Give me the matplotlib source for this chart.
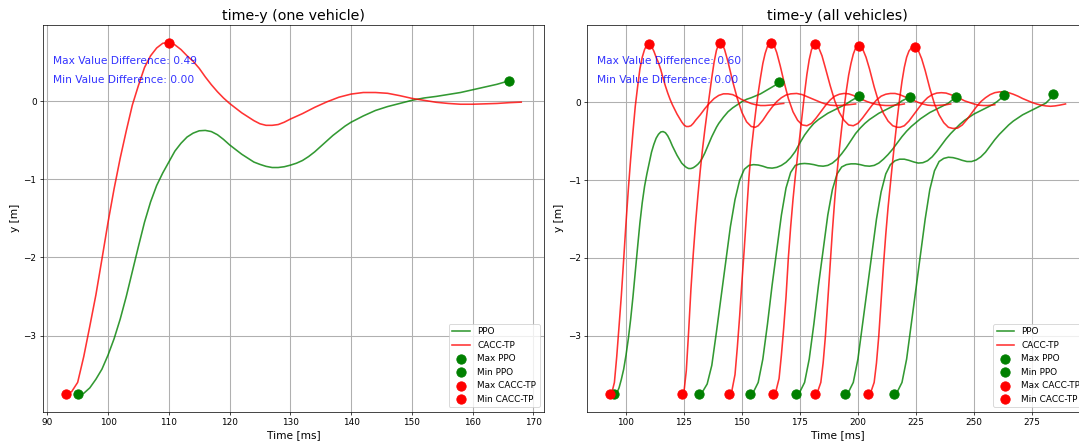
import matplotlib
matplotlib.use("Agg")
import matplotlib.pyplot as plt
from matplotlib.ticker import MultipleLocator

# vehicle 1 (also shown alone in the left panel)
ppo_t1 = [95, 96, 97, 98, 99, 100, 101, 102, 103, 104, 105, 106, 107, 108, 109, 110, 111, 112, 113, 114,
          115, 116, 117, 118, 119, 120, 121, 122, 123, 124, 125, 126, 127, 128, 129, 130, 131, 132, 133, 134,
          135, 136, 137, 138, 139, 140, 142, 144, 146, 148, 150, 152, 154, 156, 158, 160, 162, 164, 166]
ppo_y1 = [-3.75, -3.74, -3.67, -3.56, -3.43, -3.25, -3.04, -2.79, -2.5, -2.18, -1.86, -1.55, -1.29, -1.08,
          -0.92, -0.78, -0.64, -0.54, -0.46, -0.41, -0.38, -0.375, -0.39, -0.43, -0.49, -0.56, -0.62, -0.68,
          -0.73, -0.78, -0.81, -0.835, -0.85, -0.85, -0.84, -0.82, -0.795, -0.76, -0.71, -0.65, -0.58, -0.51,
          -0.44, -0.38, -0.32, -0.27, -0.19, -0.12, -0.07, -0.03, 0.01, 0.04, 0.06, 0.085, 0.11, 0.145, 0.18,
          0.215, 0.26]
cacc_t1 = [93, 94, 95, 96, 97, 98, 99, 100, 101, 102, 103, 104, 105, 106, 107, 108, 109, 110, 111, 112,
           113, 114, 115, 116, 117, 118, 119, 120, 121, 122, 123, 124, 125, 126, 127, 128, 129, 130, 132, 134,
           136, 138, 140, 142, 144, 146, 148, 150, 152, 154, 156, 158, 160, 162, 164, 166, 168]
cacc_y1 = [-3.75, -3.72, -3.6, -3.27, -2.88, -2.48, -2.02, -1.55, -1.12, -0.73, -0.38, -0.05, 0.2, 0.43,
           0.58, 0.68, 0.74, 0.75, 0.72, 0.66, 0.58, 0.51, 0.42, 0.31, 0.21, 0.12, 0.04, -0.03, -0.09, -0.15,
           -0.2, -0.25, -0.29, -0.31, -0.31, -0.3, -0.27, -0.23, -0.16, -0.08, -0.01, 0.05, 0.09, 0.11, 0.11,
           0.1, 0.07, 0.035, 0.01, -0.015, -0.03, -0.04, -0.04, -0.035, -0.03, -0.02, -0.013]

# vehicles 2..6
ppo_t2 = [131.3, 133, 135, 137, 139, 141, 143, 145, 147, 149, 151, 153, 155, 157, 159, 161, 163, 165, 167,
          169, 171, 173, 175, 177, 179, 181, 183, 185, 187, 189, 191, 193, 195, 197, 199, 200.5]
ppo_y2 = [-3.75, -3.72, -3.62, -3.38, -2.95, -2.5, -2.05, -1.6, -1.25, -1.0, -0.86, -0.81, -0.8, -0.805,
          -0.82, -0.84, -0.845, -0.835, -0.81, -0.77, -0.71, -0.63, -0.52, -0.42, -0.34, -0.27, -0.22, -0.18,
          -0.14, -0.11, -0.08, -0.05, -0.02, 0.02, 0.055, 0.085]
ppo_t3 = [153.5, 155, 157, 159, 161, 163, 165, 167, 169, 171, 173, 175, 177, 179, 181, 183, 185, 187, 189,
          191, 193, 195, 197, 199, 201, 203, 205, 207, 209, 211, 213, 215, 217, 219, 221, 222.5]
ppo_y3 = [-3.75, -3.72, -3.6, -3.3, -2.85, -2.35, -1.9, -1.45, -1.1, -0.9, -0.81, -0.79, -0.785, -0.79,
          -0.8, -0.815, -0.82, -0.81, -0.78, -0.73, -0.66, -0.58, -0.49, -0.4, -0.33, -0.27, -0.22, -0.18,
          -0.14, -0.11, -0.08, -0.05, -0.02, 0.02, 0.05, 0.072]
ppo_t4 = [173.3, 175, 177, 179, 181, 183, 185, 187, 189, 191, 193, 195, 197, 199, 201, 203, 205, 207, 209,
          211, 213, 215, 217, 219, 221, 223, 225, 227, 229, 231, 233, 235, 237, 239, 241, 242.2]
ppo_y4 = [-3.75, -3.72, -3.6, -3.3, -2.85, -2.35, -1.9, -1.45, -1.12, -0.92, -0.83, -0.8, -0.79, -0.79,
          -0.8, -0.815, -0.82, -0.81, -0.78, -0.73, -0.67, -0.6, -0.52, -0.44, -0.37, -0.31, -0.26, -0.21,
          -0.17, -0.13, -0.1, -0.07, -0.04, -0.01, 0.04, 0.068]
ppo_t5 = [194.6, 196, 198, 200, 202, 204, 206, 208, 210, 212, 214, 216, 218, 220, 222, 224, 226, 228, 230,
          232, 234, 236, 238, 240, 242, 244, 246, 248, 250, 252, 254, 256, 258, 260, 262, 263.2]
ppo_y5 = [-3.75, -3.72, -3.6, -3.3, -2.85, -2.4, -1.95, -1.5, -1.15, -0.92, -0.8, -0.75, -0.73, -0.73,
          -0.745, -0.765, -0.78, -0.775, -0.75, -0.7, -0.63, -0.55, -0.47, -0.4, -0.34, -0.28, -0.23, -0.19,
          -0.15, -0.12, -0.09, -0.06, -0.03, 0.01, 0.06, 0.094]
ppo_t6 = [215.4, 217, 219, 221, 223, 225, 227, 229, 231, 233, 235, 237, 239, 241, 243, 245, 247, 249, 251,
          253, 255, 257, 259, 261, 263, 265, 267, 269, 271, 273, 275, 277, 279, 281, 283, 284.3]
ppo_y6 = [-3.75, -3.72, -3.6, -3.3, -2.85, -2.4, -1.95, -1.5, -1.12, -0.88, -0.76, -0.72, -0.705, -0.71,
          -0.725, -0.745, -0.76, -0.76, -0.74, -0.7, -0.64, -0.56, -0.48, -0.41, -0.35, -0.29, -0.24, -0.2,
          -0.16, -0.13, -0.1, -0.07, -0.04, -0.01, 0.05, 0.107]

cacc_t2 = [124, 125, 126, 127, 128, 129, 130, 131, 132, 133, 134, 135, 136, 137, 138, 139, 140, 140.7,
           141.5, 142.5, 144, 146, 148, 150, 152, 154, 155.7, 157, 159, 161, 163, 165, 167, 169, 171, 173.6,
           176, 178, 180, 182, 184, 186, 188, 190, 192, 194, 196, 199]
cacc_y2 = [-3.75, -3.72, -3.45, -2.95, -2.4, -1.95, -1.55, -1.2, -0.88, -0.6, -0.35, -0.12, 0.1, 0.32,
           0.52, 0.67, 0.75, 0.77, 0.75, 0.68, 0.52, 0.27, 0.05, -0.13, -0.25, -0.31, -0.32, -0.3, -0.23,
           -0.14, -0.06, 0.01, 0.06, 0.095, 0.11, 0.115, 0.1, 0.075, 0.05, 0.025, 0.0, -0.02, -0.035, -0.04,
           -0.04, -0.035, -0.03, -0.02]
cacc_t3 = [144.5, 145.5, 147, 148, 149, 150, 151, 152, 153, 154, 155, 156, 157, 158, 159, 160, 161, 162.6,
           164, 165, 166.5, 168, 170, 172, 174, 176, 178, 180, 182, 184, 186, 188, 190, 192, 194, 196, 198,
           200, 202, 204, 206, 208, 210, 212, 214, 216, 218, 220]
cacc_y3 = [-3.75, -3.73, -3.5, -3.15, -2.75, -2.3, -1.88, -1.42, -0.97, -0.62, -0.35, -0.1, 0.12, 0.32,
           0.5, 0.63, 0.72, 0.763, 0.72, 0.64, 0.47, 0.28, 0.05, -0.12, -0.23, -0.29, -0.3, -0.27, -0.2,
           -0.12, -0.04, 0.03, 0.08, 0.105, 0.115, 0.11, 0.09, 0.06, 0.035, 0.01, -0.01, -0.025, -0.035,
           -0.04, -0.04, -0.035, -0.03, -0.02]
cacc_t4 = [163.5, 164.5, 166, 167, 168, 169, 170, 171, 172, 173, 174, 175, 176, 177, 178, 179, 180, 181.5,
           183, 184.5, 186, 188, 190, 192, 194, 196, 198, 200, 202, 204, 206, 208, 210, 212, 214, 216, 218,
           220, 222, 224, 226, 228, 230, 232, 234, 236, 238, 240]
cacc_y4 = [-3.75, -3.73, -3.55, -3.25, -2.9, -2.5, -2.0, -1.6, -1.25, -0.95, -0.68, -0.42, -0.15, 0.12,
           0.36, 0.55, 0.68, 0.75, 0.71, 0.6, 0.44, 0.22, 0.02, -0.13, -0.23, -0.29, -0.3, -0.27, -0.2,
           -0.12, -0.04, 0.03, 0.08, 0.105, 0.115, 0.115, 0.1, 0.075, 0.05, 0.025, 0.0, -0.02, -0.035, -0.04,
           -0.04, -0.035, -0.03, -0.02]
cacc_t5 = [181.5, 182.5, 184, 185, 186, 187, 188, 189, 190, 191, 192, 193, 194, 195, 196, 197, 198, 199,
           200.5, 202, 203.5, 205, 207, 209, 211, 213, 215, 217, 218.2, 220, 222, 224, 226, 228, 230, 232,
           234, 236, 238, 240, 242, 244, 246, 248, 250, 252, 254, 256, 259]
cacc_y5 = [-3.75, -3.73, -3.6, -3.35, -3.0, -2.55, -2.1, -1.65, -1.25, -0.9, -0.6, -0.33, -0.08, 0.15,
           0.35, 0.5, 0.62, 0.7, 0.73, 0.69, 0.58, 0.43, 0.2, 0.0, -0.14, -0.24, -0.3, -0.32, -0.32, -0.3,
           -0.24, -0.16, -0.08, 0.0, 0.06, 0.1, 0.12, 0.125, 0.12, 0.1, 0.075, 0.05, 0.02, 0.0, -0.02, -0.035,
           -0.04, -0.04, -0.03]
cacc_t6 = [204.5, 205.5, 207, 208, 209, 210, 211, 212, 213, 214, 215, 216, 217, 218, 219, 220, 221, 222,
           223, 224.4, 226, 227.5, 229, 231, 233, 235, 237, 239, 241, 243, 245, 247, 249, 251, 253, 255, 257,
           259, 261, 263, 265, 267, 269, 271, 273, 275, 277, 279, 281, 283, 285, 287, 289.5]
cacc_y6 = [-3.75, -3.73, -3.6, -3.35, -3.0, -2.55, -2.1, -1.7, -1.35, -1.05, -0.75, -0.47, -0.2, 0.05,
           0.27, 0.45, 0.58, 0.66, 0.7, 0.71, 0.67, 0.56, 0.41, 0.18, -0.02, -0.16, -0.26, -0.32, -0.335,
           -0.33, -0.29, -0.22, -0.14, -0.06, 0.01, 0.06, 0.1, 0.125, 0.135, 0.135, 0.125, 0.105, 0.08, 0.05,
           0.025, 0.0, -0.02, -0.035, -0.045, -0.05, -0.045, -0.035, -0.02]

ppo_all = [(ppo_t1, ppo_y1), (ppo_t2, ppo_y2), (ppo_t3, ppo_y3), (ppo_t4, ppo_y4), (ppo_t5, ppo_y5), (ppo_t6, ppo_y6)]
cacc_all = [(cacc_t1, cacc_y1), (cacc_t2, cacc_y2), (cacc_t3, cacc_y3), (cacc_t4, cacc_y4),
            (cacc_t5, cacc_y5), (cacc_t6, cacc_y6)]

diff_one = ["Max Value Difference: 0.49", "Min Value Difference: 0.00"]
diff_all = ["Max Value Difference: 0.60", "Min Value Difference: 0.00"]


def draw(ax, ppo_list, cacc_list, texts, title):
    for i, (t, y) in enumerate(ppo_list):
        ax.plot(t, y, color="g", alpha=0.8, lw=1.8, label="PPO" if i == 0 else None)
    for i, (t, y) in enumerate(cacc_list):
        ax.plot(t, y, color="r", alpha=0.8, lw=1.8, label="CACC-TP" if i == 0 else None)
    for i, (t, y) in enumerate(ppo_list):
        k = y.index(max(y))
        ax.scatter(t[k], y[k], color="g", s=110, zorder=5, label="Max PPO" if i == 0 else None)
    for i, (t, y) in enumerate(ppo_list):
        k = y.index(min(y))
        ax.scatter(t[k], y[k], color="g", s=110, zorder=5, label="Min PPO" if i == 0 else None)
    for i, (t, y) in enumerate(cacc_list):
        k = y.index(max(y))
        ax.scatter(t[k], y[k], color="r", s=110, zorder=5, label="Max CACC-TP" if i == 0 else None)
    for i, (t, y) in enumerate(cacc_list):
        k = y.index(min(y))
        ax.scatter(t[k], y[k], color="r", s=110, zorder=5, label="Min CACC-TP" if i == 0 else None)
    ax.text(0.02, 0.908, texts[0], transform=ax.transAxes, color="b", alpha=0.8, fontsize=12, va="center")
    ax.text(0.02, 0.858, texts[1], transform=ax.transAxes, color="b", alpha=0.8, fontsize=12, va="center")
    ax.set_title(title, fontsize=16)
    ax.set_xlabel("Time [ms]", fontsize=12)
    ax.set_ylabel("y [m]", fontsize=12)
    ax.grid(True, color="#b0b0b0", lw=1.2)
    ax.legend(loc="lower right", fontsize=10)


fig = plt.figure(figsize=(1079 / 64, 442 / 64), dpi=64)
ax1 = fig.add_axes([0.0396, 0.0686, 0.4646, 0.875])
ax2 = fig.add_axes([0.544, 0.0686, 0.4646, 0.875])

draw(ax1, ppo_all[:1], cacc_all[:1], diff_one, "time-y (one vehicle)")
draw(ax2, ppo_all, cacc_all, diff_all, "time-y (all vehicles)")
ax1.xaxis.set_major_locator(MultipleLocator(10))
ax2.xaxis.set_major_locator(MultipleLocator(25))

fig.savefig("out.png", dpi=64)
